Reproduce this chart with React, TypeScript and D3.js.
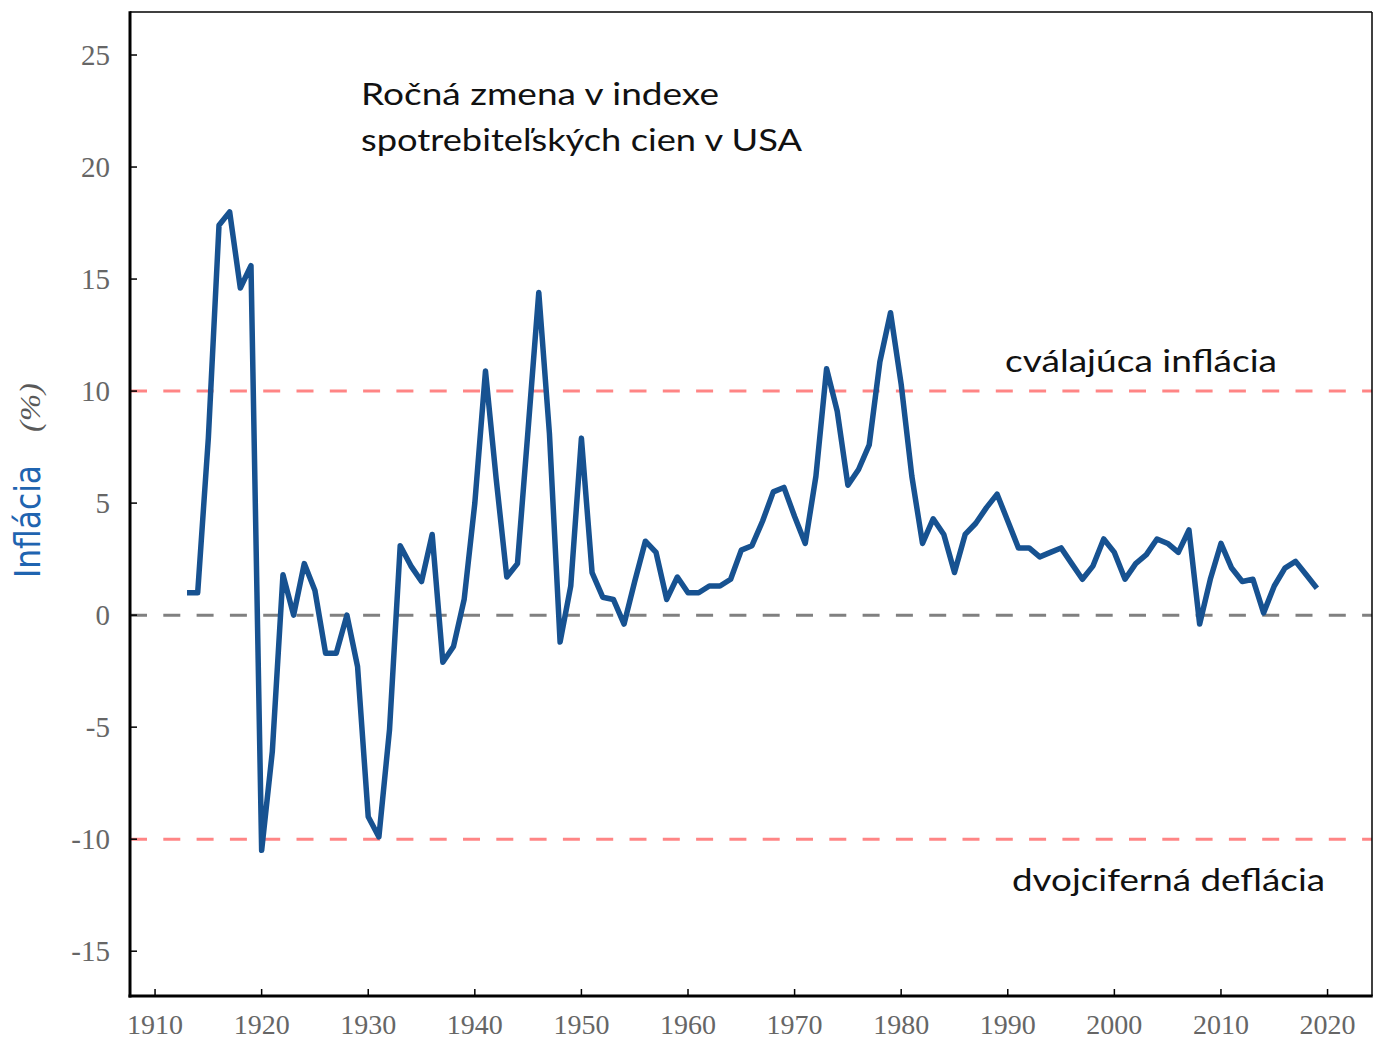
import React from "react";
import * as d3 from "d3";

// Annual change of US consumer price index (%), plotted from FIRST_YEAR
const FIRST_YEAR = 1913;
const inflation = [
  1.0, 1.0, 7.9, 17.4, 18.0, 14.6, 15.6, -10.5, -6.1, 1.8,
  0.0, 2.3, 1.1, -1.7, -1.7, 0.0, -2.3, -9.0, -9.9, -5.1,
  3.1, 2.2, 1.5, 3.6, -2.1, -1.4, 0.7, 5.0, 10.9, 6.1,
  1.7, 2.3, 8.3, 14.4, 8.1, -1.2, 1.3, 7.9, 1.9, 0.8,
  0.7, -0.4, 1.5, 3.3, 2.8, 0.7, 1.7, 1.0, 1.0, 1.3,
  1.3, 1.6, 2.9, 3.1, 4.2, 5.5, 5.7, 4.4, 3.2, 6.2,
  11.0, 9.1, 5.8, 6.5, 7.6, 11.3, 13.5, 10.3, 6.2, 3.2,
  4.3, 3.6, 1.9, 3.6, 4.1, 4.8, 5.4, 4.2, 3.0, 3.0,
  2.6, 2.8, 3.0, 2.3, 1.6, 2.2, 3.4, 2.8, 1.6, 2.3,
  2.7, 3.4, 3.2, 2.8, 3.8, -0.4, 1.6, 3.2, 2.1, 1.5,
  1.6, 0.1, 1.3, 2.1, 2.4, 1.8, 1.2,
];

const xTickYears = [1910, 1920, 1930, 1940, 1950, 1960, 1970, 1980, 1990, 2000, 2010, 2020];
const yTickValues = [25, 20, 15, 10, 5, 0, -5, -10, -15];
const warningLevels = [10, -10];
const zeroLevel = 0;
const titleLines = ["Ročná zmena v indexe", "spotrebiteľských cien v USA"];
const upperNote = "cválajúca inflácia";
const lowerNote = "dvojciferná deflácia";
const axisLabelMain = "Inflácia";
const axisLabelUnit = "(%)";

export default function App() {
  const W = 1377;
  const H = 1042;
  const left = 130;
  const right = 1372;
  const top = 12;
  const bottom = 996;

  const x = d3.scaleLinear().domain([1907.65, 2024.17]).range([left, right]);
  const y = d3.scaleLinear().domain([-17.0, 26.92]).range([bottom, top]);

  const line = d3
    .line<number>()
    .x((_, i) => x(FIRST_YEAR + i))
    .y((d) => y(d));

  const fmt = (v: number) => (v < 0 ? "-" + Math.abs(v) : String(v));
  const serif = "'Liberation Serif', 'DejaVu Serif', Times, serif";
  const sans = "Lato, 'Open Sans', 'Noto Sans', sans-serif";

  return (
    <svg
      width={W}
      height={H}
      style={{ position: "absolute", left: 0, top: 0, background: "#fff" }}
      xmlns="http://www.w3.org/2000/svg"
    >
      <rect x={0} y={0} width={W} height={H} fill="#fff" />

      {/* reference lines */}
      {warningLevels.map((v) => (
        <line
          key={"w" + v}
          x1={left}
          x2={right}
          y1={y(v)}
          y2={y(v)}
          stroke="#ff8585"
          strokeWidth={3}
          strokeDasharray="17 16.3"
        />
      ))}
      <line
        x1={left}
        x2={right}
        y1={y(zeroLevel)}
        y2={y(zeroLevel)}
        stroke="#808080"
        strokeWidth={3}
        strokeDasharray="17 16.3"
      />

      {/* data line */}
      <path
        d={line(inflation) || ""}
        fill="none"
        stroke="#175291"
        strokeWidth={5.5}
        strokeLinejoin="round"
        strokeLinecap="butt"
      />

      {/* frame */}
      <line x1={left} x2={right} y1={top} y2={top} stroke="#000" strokeWidth={1.5} />
      <line x1={right} x2={right} y1={top} y2={bottom} stroke="#000" strokeWidth={1.5} />
      <line x1={left} x2={left} y1={top - 0.75} y2={bottom + 1.5} stroke="#000" strokeWidth={3} />
      <line x1={left - 1.5} x2={right + 0.75} y1={bottom} y2={bottom} stroke="#000" strokeWidth={3} />

      {/* y ticks */}
      {yTickValues.map((v) => (
        <g key={"yt" + v}>
          <line x1={left} x2={left + 7} y1={y(v)} y2={y(v)} stroke="#000" strokeWidth={1.5} />
          <text
            x={110}
            y={y(v)}
            dy="0.35em"
            textAnchor="end"
            fontFamily={serif}
            fontSize={29}
            fill="#666"
          >
            {fmt(v)}
          </text>
        </g>
      ))}

      {/* x ticks */}
      {xTickYears.map((v) => (
        <g key={"xt" + v}>
          <line x1={x(v)} x2={x(v)} y1={bottom} y2={bottom - 7} stroke="#000" strokeWidth={1.5} />
          <text
            x={x(v)}
            y={1034}
            textAnchor="middle"
            fontFamily={serif}
            fontSize={28}
            fill="#666"
          >
            {v}
          </text>
        </g>
      ))}

      {/* y axis label */}
      <g transform="translate(40,578) rotate(-90)">
        <text
          x={0}
          y={0}
          fontFamily="'Liberation Sans Narrow', 'DejaVu Sans Condensed', 'Liberation Sans', sans-serif"
          fontSize={36}
          fill="#1f64b0"
          textLength={113}
          lengthAdjust="spacingAndGlyphs"
        >
          {axisLabelMain}
        </text>
        <text
          x={146}
          y={0}
          fontFamily={serif}
          fontStyle="italic"
          fontSize={30}
          fill="#595959"
          textLength={49}
          lengthAdjust="spacingAndGlyphs"
        >
          {axisLabelUnit}
        </text>
      </g>

      {/* title */}
      <text
        x={361}
        y={105}
        fontFamily={sans}
        fontSize={31}
        fill="#111"
        textLength={358}
        lengthAdjust="spacingAndGlyphs"
      >
        {titleLines[0]}
      </text>
      <text
        x={361}
        y={151}
        fontFamily={sans}
        fontSize={31}
        fill="#111"
        textLength={441}
        lengthAdjust="spacingAndGlyphs"
      >
        {titleLines[1]}
      </text>

      {/* annotations */}
      <text
        x={1005}
        y={372}
        fontFamily={sans}
        fontSize={31}
        fill="#111"
        textLength={272}
        lengthAdjust="spacingAndGlyphs"
      >
        {upperNote}
      </text>
      <text
        x={1012}
        y={891}
        fontFamily={sans}
        fontSize={31}
        fill="#111"
        textLength={313}
        lengthAdjust="spacingAndGlyphs"
      >
        {lowerNote}
      </text>
    </svg>
  );
}
